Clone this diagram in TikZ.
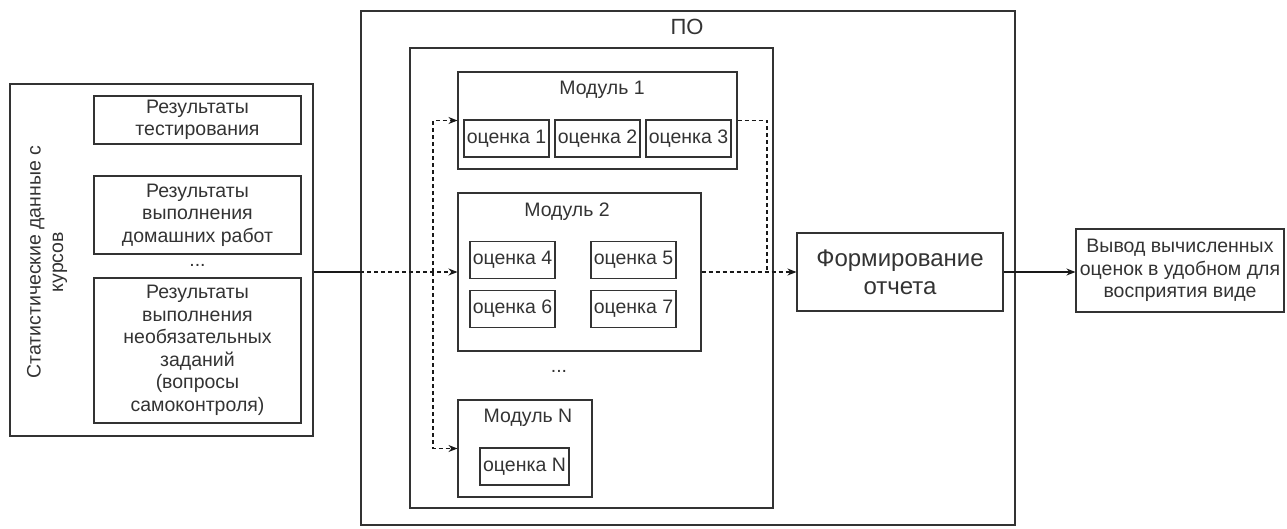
\documentclass[tikz,border=0pt]{standalone}
\usepackage{fontspec}
\setmainfont{Liberation Sans}
\usepackage{tikz}
\usetikzlibrary{arrows.meta,positioning}

\definecolor{ink}{RGB}{51,51,51}

\begin{document}
\begin{tikzpicture}[x=1pt,y=-1pt]
		\tikzstyle{Box}		= [rectangle, draw=ink, line width=1.1pt, inner sep=0pt, align=center, text=ink, font=\fontsize{19.5}{22.5}\selectfont]
		\tikzstyle{Grade}	= [Box, minimum width=85pt, minimum height=37pt]
		\tikzstyle{Caption}	= [inner sep=0pt, align=center, text=ink, font=\fontsize{19.5}{22.5}\selectfont]
		\tikzstyle{Flow}	= [line width=1.1pt, draw=black!90]
		\tikzstyle{Tip}		= [-{Stealth[length=9pt,width=7pt]}]
		\tikzstyle{Inner}	= [dashed, dash pattern=on 4pt off 3pt]

		\useasboundingbox (0,0) rectangle (1287,528);

		% input data
		\node (stat) at (161.5,260) [Box, minimum width=303pt, minimum height=352pt] {};
		\node (statlab) at (47,262) [Caption, rotate=90] {Статистические данные с\\курсов};
		\node (res1) at (197.5,120) [Box, minimum width=207pt, minimum height=48pt] {Результаты\\тестирования};
		\node (res2) at (197.5,215) [Box, minimum width=207pt, minimum height=78pt] {Результаты\\выполнения\\домашних работ};
		\node (dots1) at (197.5,265) [Caption] {...};
		\node (res3) at (197.5,350.5) [Box, minimum width=207pt, minimum height=145pt] {Результаты\\выполнения\\необязательных\\заданий\\(вопросы\\самоконтроля)};

		% software
		\node (po) at (688,268) [Box, minimum width=654pt, minimum height=514pt] {};
		\node (polab) at (687,27) [Caption, font=\fontsize{22}{25}\selectfont] {ПО};
		\node (mods) at (591.5,278) [Box, minimum width=363pt, minimum height=460pt] {};

		\node (mod1) at (597.5,120.5) [Box, minimum width=279pt, minimum height=97pt] {};
		\node (mod1lab) at (602,90) [Caption] {Модуль 1};
		\node (g1) at (506.5,138.5) [Grade] {оценка 1};
		\node (g2) at (597.5,138.5) [Grade] {оценка 2};
		\node (g3) at (688.5,138.5) [Grade] {оценка 3};

		\node (mod2) at (579.5,272) [Box, minimum width=243pt, minimum height=158pt] {};
		\node (mod2lab) at (567,212) [Caption] {Модуль 2};
		\node (g4) at (512.5,260) [Grade] {оценка 4};
		\node (g5) at (633.5,260) [Grade] {оценка 5};
		\node (g6) at (512.5,309) [Grade] {оценка 6};
		\node (g7) at (633.5,309) [Grade] {оценка 7};

		\node (dots2) at (559,371) [Caption] {...};

		\node (modN) at (525,448.5) [Box, minimum width=134pt, minimum height=97pt] {};
		\node (modNlab) at (528,418) [Caption] {Модуль N};
		\node (gN) at (524.5,466.5) [Grade, minimum width=89pt] {оценка N};

		\node (report) at (900,272) [Box, minimum width=206pt, minimum height=78pt, font=\fontsize{24}{28}\selectfont] {Формирование\\отчета};

		% output
		\node (out) at (1180,270.5) [Box, minimum width=208pt, minimum height=83pt] {Вывод вычисленных\\оценок в удобном для\\восприятия виде};

		\coordinate (split) at (433,272);
		\coordinate (merge) at (767,272);

		\draw [Flow] (stat.east |- mod2.west) to (po.west |- mod2.west);
		\draw [Flow, Inner, Tip] (po.west |- mod2.west) to (mod2.west);
		\draw [Flow, Inner, Tip] (split) |- (mod1.west);
		\draw [Flow, Inner, Tip] (split) |- (modN.west);
		\draw [Flow, Inner] (mod1.east) -| (merge);
		\draw [Flow, Inner, Tip] (mod2.east) to (report.west);
		\draw [Flow, Tip] (report.east) to (report.east -| out.west);
	\end{tikzpicture}
\end{document}
